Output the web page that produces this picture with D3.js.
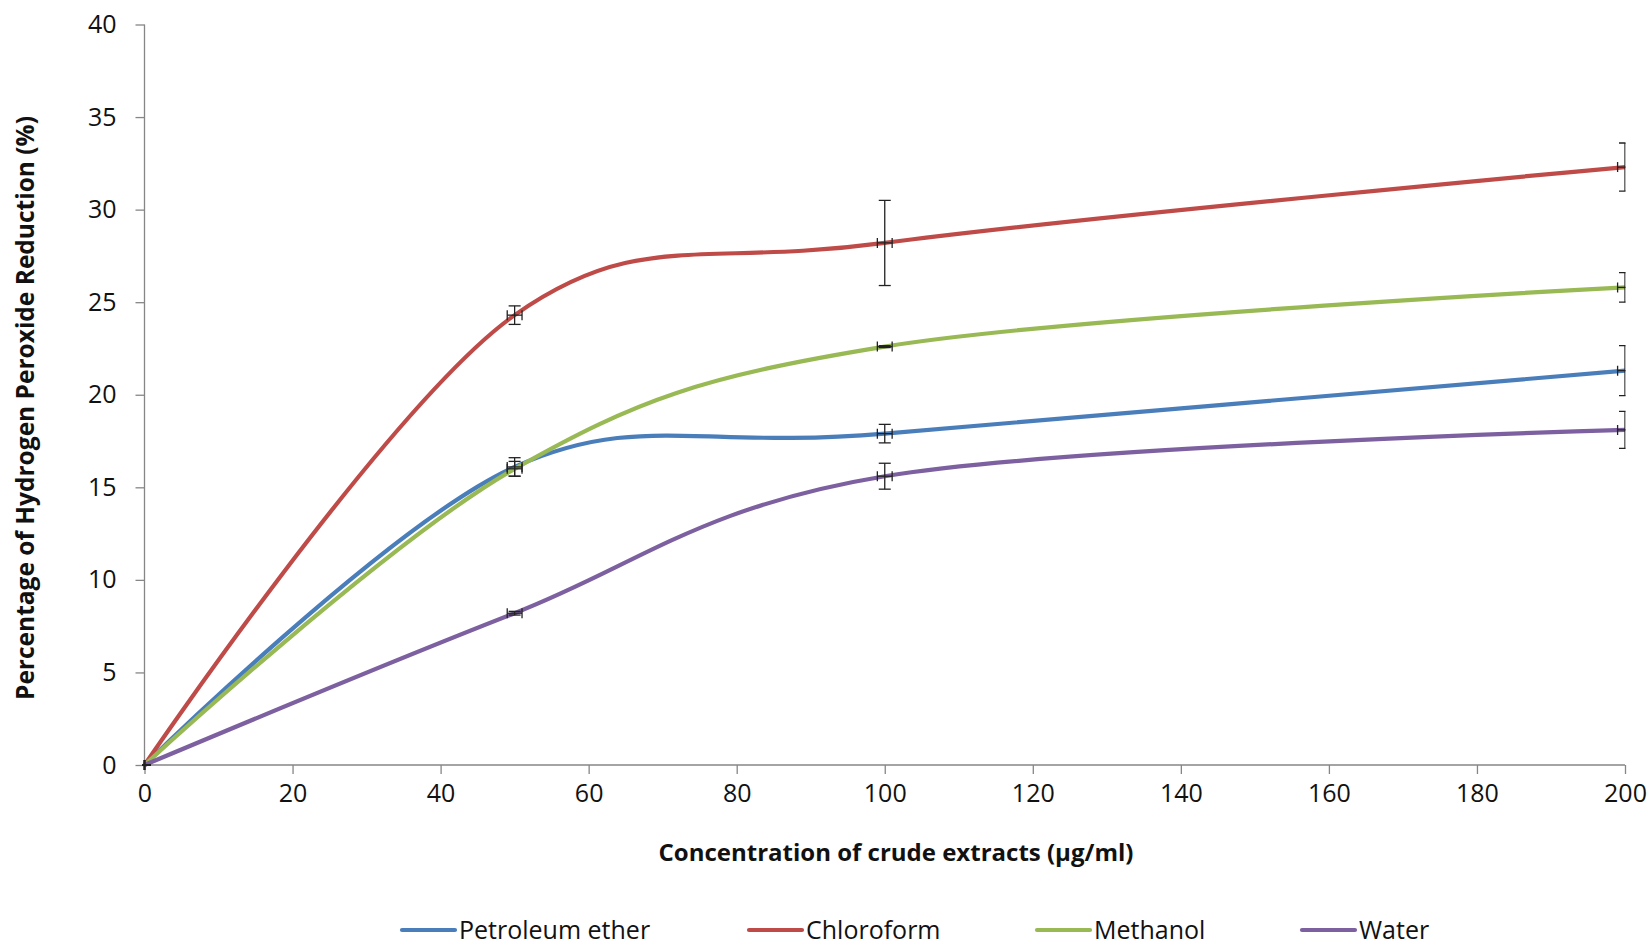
<!DOCTYPE html>
<html>
<head>
<meta charset="utf-8">
<script src="https://cdn.jsdelivr.net/npm/d3@7"></script>
<style>
  html, body { margin: 0; padding: 0; background: #fff; }
  svg { display: block; font-family: "Open Sans", Lato, sans-serif; }
</style>
</head>
<body>
<svg id="chart" width="1650" height="943"></svg>
<script>
// Concentration of crude extracts (µg/ml)
const concentrations = [0, 50, 100, 200];

// Hydrogen peroxide reduction (%) per solvent
const petroleumEther = [0, 16.1, 17.9, 21.3];
const chloroform     = [0, 24.3, 28.2, 32.3];
const methanol       = [0, 16.0, 22.6, 25.8];
const water          = [0, 8.2, 15.6, 18.1];

// Standard deviations (vertical) for each point
const petroleumEtherErr = [0, 0.5, 0.5, 1.35];
const chloroformErr     = [0, 0.5, 2.3, 1.3];
const methanolErr       = [0, 0.4, 0.05, 0.8];
const waterErr          = [0, 0.1, 0.7, 1.0];

// Horizontal error on concentration
const concentrationErr = [0, 1, 1, 1];

const seriesNames  = ["Petroleum ether", "Chloroform", "Methanol", "Water"];
const seriesColors = ["#4A7EBB", "#BE4B48", "#98B954", "#7D60A0"];

const xTicks = [0, 20, 40, 60, 80, 100, 120, 140, 160, 180, 200];
const yTicks = [0, 5, 10, 15, 20, 25, 30, 35, 40];

const series = [
  { name: seriesNames[0], color: seriesColors[0], values: petroleumEther, err: petroleumEtherErr },
  { name: seriesNames[1], color: seriesColors[1], values: chloroform,     err: chloroformErr },
  { name: seriesNames[2], color: seriesColors[2], values: methanol,       err: methanolErr },
  { name: seriesNames[3], color: seriesColors[3], values: water,          err: waterErr }
];

const svg = d3.select("#chart");
const plot = { left: 144.5, right: 1625, top: 24.5, bottom: 765 };

const x = d3.scaleLinear().domain([0, 200]).range([plot.left, plot.right]);
const y = d3.scaleLinear().domain([0, 40]).range([plot.bottom, plot.top]);

const axisColor = "#868686";
const textColor = "#111";

svg.append("defs").append("clipPath").attr("id", "plotClip")
  .append("rect")
  .attr("x", plot.left - 2).attr("y", plot.top - 10)
  .attr("width", plot.right - plot.left + 2.5)
  .attr("height", plot.bottom - plot.top + 20);

// Y axis
const yAxis = svg.append("g")
  .attr("transform", `translate(${plot.left},0)`)
  .call(d3.axisLeft(y).tickValues(yTicks).tickSize(9).tickPadding(19).tickFormat(d3.format("d")));
// X axis
const xAxis = svg.append("g")
  .attr("transform", `translate(0,${plot.bottom})`)
  .call(d3.axisBottom(x).tickValues(xTicks).tickSize(9).tickPadding(10).tickFormat(d3.format("d")));

[yAxis, xAxis].forEach(g => {
  g.select(".domain").attr("stroke", axisColor).attr("stroke-width", 1.3);
  g.selectAll(".tick line").attr("stroke", axisColor).attr("stroke-width", 1.3);
  g.selectAll(".tick text")
    .attr("fill", textColor)
    .style("font-size", "25px")
    .style("font-family", "'Open Sans', Lato, sans-serif");
});
// Plain axis lines without end stubs
yAxis.select(".domain").attr("d", `M0,${plot.top}V${plot.bottom}`);
xAxis.select(".domain").attr("d", `M${plot.left},0H${plot.right}`);

// Smoothed series lines
const line = d3.line()
  .x((d, i) => x(concentrations[i]))
  .y(d => y(d))
  .curve(d3.curveCardinal.tension(0));

const lines = svg.append("g").attr("clip-path", "url(#plotClip)");
series.forEach(s => {
  lines.append("path")
    .datum(s.values)
    .attr("fill", "none")
    .attr("stroke", s.color)
    .attr("stroke-width", 4.2)
    .attr("stroke-linejoin", "round")
    .attr("d", line);
});

// Error bars (vertical and horizontal, with caps)
const bars = svg.append("g").attr("clip-path", "url(#plotClip)")
  .attr("stroke", "#222").attr("stroke-width", 1.3).attr("fill", "none");
const capV = 6, capH = 5;
series.forEach(s => {
  s.values.forEach((v, i) => {
    const cx = x(concentrations[i]);
    const cy = y(v);
    const y1 = y(v + s.err[i]);
    const y2 = y(v - s.err[i]);
    bars.append("line").attr("x1", cx).attr("x2", cx).attr("y1", y1).attr("y2", y2);
    bars.append("line").attr("x1", cx - capV).attr("x2", cx + capV).attr("y1", y1).attr("y2", y1);
    bars.append("line").attr("x1", cx - capV).attr("x2", cx + capV).attr("y1", y2).attr("y2", y2);
    const xe = concentrationErr[i];
    const x1 = x(concentrations[i] - xe);
    const x2 = x(concentrations[i] + xe);
    bars.append("line").attr("x1", x1).attr("x2", x2).attr("y1", cy).attr("y2", cy);
    bars.append("line").attr("x1", x1).attr("x2", x1).attr("y1", cy - capH).attr("y2", cy + capH);
    bars.append("line").attr("x1", x2).attr("x2", x2).attr("y1", cy - capH).attr("y2", cy + capH);
  });
});

// Axis titles
svg.append("text")
  .attr("x", 896).attr("y", 861)
  .attr("text-anchor", "middle")
  .attr("fill", textColor)
  .style("font-size", "24px").style("font-weight", "bold")
  .text("Concentration of crude extracts (µg/ml)");

svg.append("text")
  .attr("transform", "translate(34,408) rotate(-90)")
  .attr("text-anchor", "middle")
  .attr("fill", textColor)
  .style("font-size", "24.5px").style("font-weight", "bold")
  .text("Percentage of Hydrogen Peroxide Reduction (%)");

// Legend
const legendX = [402, 749, 1037, 1302];
const legend = svg.append("g");
series.forEach((s, i) => {
  const g = legend.append("g").attr("transform", `translate(${legendX[i]},930)`);
  g.append("line").attr("x1", 0).attr("x2", 53).attr("y1", 0).attr("y2", 0)
    .attr("stroke", s.color).attr("stroke-width", 4.2).attr("stroke-linecap", "round");
  g.append("text").attr("x", 57).attr("y", 9)
    .attr("fill", textColor)
    .style("font-size", "25px")
    .text(s.name);
});
</script>
</body>
</html>
